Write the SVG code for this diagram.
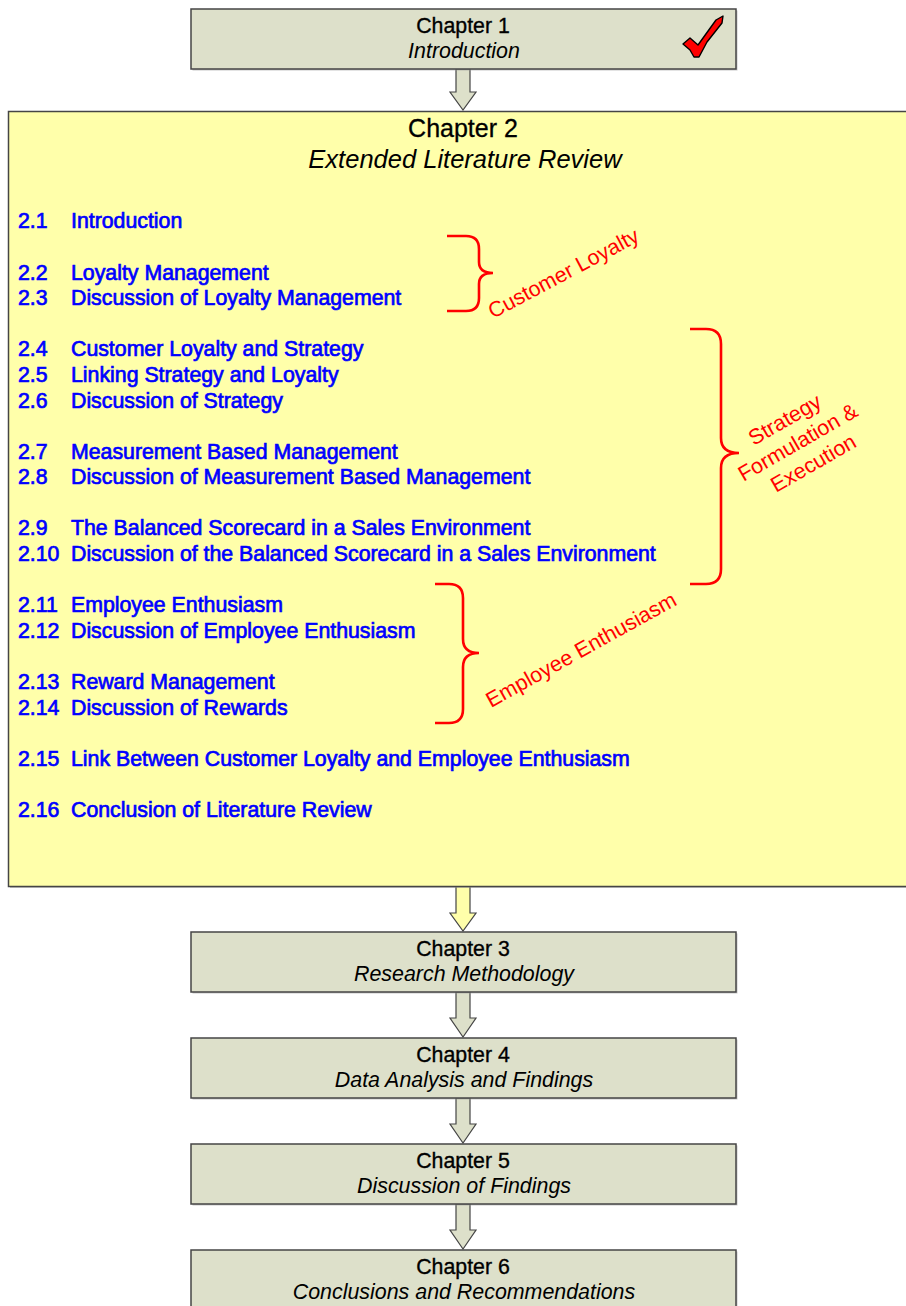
<svg xmlns="http://www.w3.org/2000/svg" width="906" height="1306" viewBox="0 0 906 1306">
  <style>
    .box { fill: #dde0ca; stroke: #454545; stroke-width: 1.5; }
    .shadow { fill: #9a9a9a; opacity: 0.55; }
    .big { fill: #ffffaa; stroke: #454545; stroke-width: 1.5; }
    .arrow { fill: #dde0ca; stroke: #454545; stroke-width: 1.2; stroke-linejoin: miter; }
    .arrow-y { fill: #ffffaa; stroke: #454545; stroke-width: 1.2; }
    .t { font-family: "Liberation Sans", Arial, sans-serif; fill: #000; text-anchor: middle; }
    .h { font-size: 21.3px; stroke: #000; stroke-width: 0.35; }
    .s { font-size: 21.4px; font-style: italic; }
    .h2 { font-size: 25px; stroke: #000; stroke-width: 0.3; }
    .s2 { font-size: 25.5px; font-style: italic; }
    .item { font-family: "Liberation Sans", Arial, sans-serif; font-size: 21.3px; fill: #0000ff; stroke: #0000ff; stroke-width: 0.7; }
    .brace { fill: none; stroke: #ff0000; stroke-width: 2.6; stroke-linecap: butt; }
    .lbl { font-family: "Liberation Sans", Arial, sans-serif; font-size: 21.5px; fill: #ff0000; }
    .tick { fill: #ff0000; stroke: #000; stroke-width: 1.4; stroke-linejoin: round; }
  </style>

  <!-- block arrows between chapters -->
  <g id="connectors">
    <polygon class="arrow" points="456,69 470,69 470,92 476,92 463,110 450,92 456,92"/>
    <polygon class="arrow-y" points="456,886 470,886 470,913 476,913 463,931 450,913 456,913"/>
    <polygon class="arrow" points="456,992 470,992 470,1018 476,1018 463,1037 450,1018 456,1018"/>
    <polygon class="arrow" points="456,1098 470,1098 470,1124 476,1124 463,1143 450,1124 456,1124"/>
    <polygon class="arrow" points="456,1204 470,1204 470,1230 476,1230 463,1249 450,1230 456,1230"/>
  </g>

  <g id="chapter1">
    <rect class="shadow" x="192.5" y="10.5" width="545" height="60"/>
    <rect class="box" x="191" y="9" width="545" height="60"/>
    <text class="t h" x="463" y="33">Chapter 1</text>
    <text class="t s" x="464" y="58">Introduction</text>
    <polygon class="tick" points="683,44 690,38 698,45 716,20 723,16 722,23 707,42 699,57 694,57 690,50"/>
  </g>

  <g id="chapter2">
    <rect class="shadow" x="10" y="113" width="910" height="775"/>
    <rect class="big" x="8.5" y="111.5" width="910" height="775"/>
    <text class="t h2" x="463" y="137">Chapter 2</text>
    <text class="t s2" x="465" y="168">Extended Literature Review</text>

    <g id="sections">
      <text class="item" x="18" y="228">2.1</text><text class="item" x="71" y="228">Introduction</text>
      <text class="item" x="18" y="279.5">2.2</text><text class="item" x="71" y="279.5">Loyalty Management</text>
      <text class="item" x="18" y="305">2.3</text><text class="item" x="71" y="305">Discussion of Loyalty Management</text>
      <text class="item" x="18" y="356">2.4</text><text class="item" x="71" y="356">Customer Loyalty and Strategy</text>
      <text class="item" x="18" y="382">2.5</text><text class="item" x="71" y="382">Linking Strategy and Loyalty</text>
      <text class="item" x="18" y="407.5">2.6</text><text class="item" x="71" y="407.5">Discussion of Strategy</text>
      <text class="item" x="18" y="458.5">2.7</text><text class="item" x="71" y="458.5">Measurement Based Management</text>
      <text class="item" x="18" y="484">2.8</text><text class="item" x="71" y="484">Discussion of Measurement Based Management</text>
      <text class="item" x="18" y="535">2.9</text><text class="item" x="71" y="535">The Balanced Scorecard in a Sales Environment</text>
      <text class="item" x="18" y="561">2.10</text><text class="item" x="71" y="561">Discussion of the Balanced Scorecard in a Sales Environment</text>
      <text class="item" x="18" y="612">2.11</text><text class="item" x="71" y="612">Employee Enthusiasm</text>
      <text class="item" x="18" y="638">2.12</text><text class="item" x="71" y="638">Discussion of Employee Enthusiasm</text>
      <text class="item" x="18" y="689">2.13</text><text class="item" x="71" y="689">Reward Management</text>
      <text class="item" x="18" y="714.5">2.14</text><text class="item" x="71" y="714.5">Discussion of Rewards</text>
      <text class="item" x="18" y="766">2.15</text><text class="item" x="71" y="766">Link Between Customer Loyalty and Employee Enthusiasm</text>
      <text class="item" x="18" y="817">2.16</text><text class="item" x="71" y="817">Conclusion of Literature Review</text>
    </g>

    <g id="group-customer-loyalty">
      <path class="brace" d="M447,236 H466 Q479,236 479,249 V262 Q479,273 493,273 Q479,273 479,284 V298 Q479,311 466,311 H447"/>
      <text class="lbl" transform="translate(493,319) rotate(-28)">Customer Loyalty</text>
    </g>

    <g id="group-strategy">
      <path class="brace" d="M690,329 H706 Q721,329 721,344 V438 Q721,453 739,453 Q721,453 721,468 V569 Q721,584 706,584 H690"/>
      <text class="lbl" text-anchor="middle" transform="translate(804,447) rotate(-30)">
        <tspan x="0" y="-26">Strategy</tspan>
        <tspan x="0" y="0">Formulation &amp;</tspan>
        <tspan x="0" y="26">Execution</tspan>
      </text>
    </g>

    <g id="group-employee">
      <path class="brace" d="M435,584 H449 Q463,584 463,598 V639 Q463,653 479,653 Q463,653 463,667 V709 Q463,723 449,723 H435"/>
      <text class="lbl" transform="translate(491,708) rotate(-29)">Employee Enthusiasm</text>
    </g>
  </g>

  <g id="chapter3">
    <rect class="shadow" x="192.5" y="933.5" width="545" height="60"/>
    <rect class="box" x="191" y="932" width="545" height="60"/>
    <text class="t h" x="463" y="956">Chapter 3</text>
    <text class="t s" x="464" y="981">Research Methodology</text>
  </g>

  <g id="chapter4">
    <rect class="shadow" x="192.5" y="1039.5" width="545" height="60"/>
    <rect class="box" x="191" y="1038" width="545" height="60"/>
    <text class="t h" x="463" y="1062">Chapter 4</text>
    <text class="t s" x="464" y="1087">Data Analysis and Findings</text>
  </g>

  <g id="chapter5">
    <rect class="shadow" x="192.5" y="1145.5" width="545" height="60"/>
    <rect class="box" x="191" y="1144" width="545" height="60"/>
    <text class="t h" x="463" y="1168">Chapter 5</text>
    <text class="t s" x="464" y="1193">Discussion of Findings</text>
  </g>

  <g id="chapter6">
    <rect class="shadow" x="192.5" y="1251.5" width="545" height="60"/>
    <rect class="box" x="191" y="1250" width="545" height="60"/>
    <text class="t h" x="463" y="1274">Chapter 6</text>
    <text class="t s" x="464" y="1299">Conclusions and Recommendations</text>
  </g>
</svg>
